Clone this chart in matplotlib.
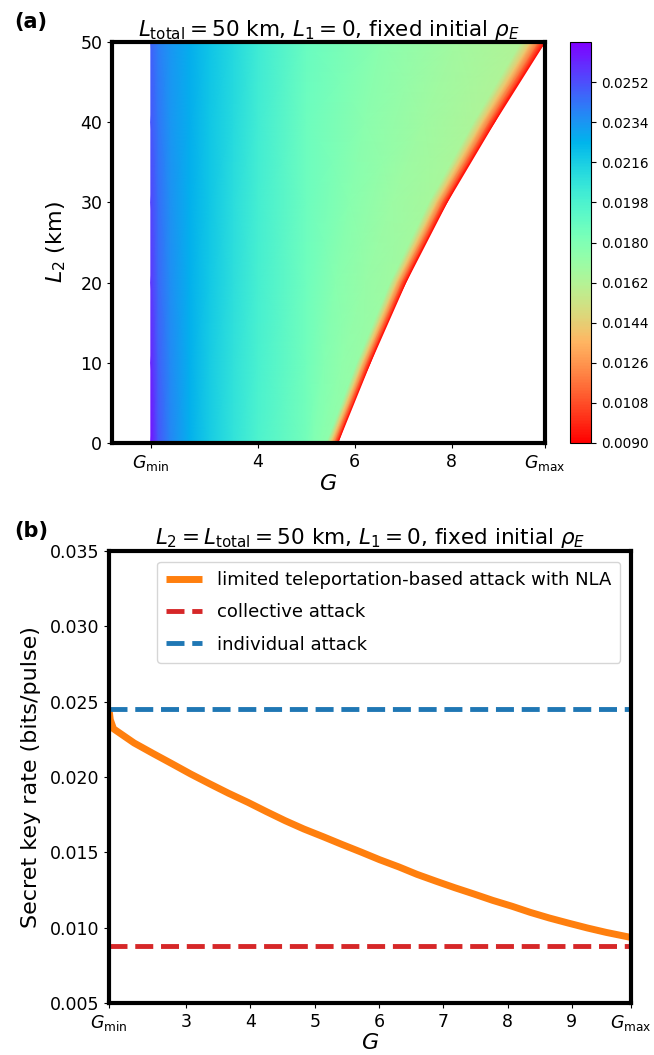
import numpy as np
import matplotlib
matplotlib.use("Agg")
import matplotlib.pyplot as plt

# ---------------- data ----------------
G_MIN = 1.80
G_MAX = 9.92

# panel (a): secret key rate map over (G, L2)
L2_rows = [0, 10, 20, 30, 40, 50]
G_edge = [5.65, 6.32, 7.05, 7.90, 8.88, 9.92]          # right boundary of the valid region
G_cols = [1.80, 1.95, 2.2, 2.6, 3.0, 3.5, 4.0, 5.0]      # fixed G sample columns
mid_frac = [0.35, 0.70]                                  # columns between G=5 and band
band_frac = [0.06, 0.035, 0.015, 0.0]                    # columns near the boundary (fraction of span)
rate_rows = [
    [0.0266, 0.0250, 0.0238, 0.0226, 0.0217, 0.0207, 0.0198, 0.0184, 0.0180, 0.0177, 0.0175, 0.0142, 0.0115, 0.0092],
    [0.0262, 0.0248, 0.0237, 0.0226, 0.0217, 0.0208, 0.0199, 0.0185, 0.0178, 0.0174, 0.0172, 0.0142, 0.0115, 0.0092],
    [0.0258, 0.0246, 0.0236, 0.0226, 0.0218, 0.0209, 0.0200, 0.0186, 0.0177, 0.0172, 0.0169, 0.0141, 0.0115, 0.0092],
    [0.0254, 0.0244, 0.0235, 0.0226, 0.0219, 0.0210, 0.0201, 0.0187, 0.0177, 0.0170, 0.0166, 0.0141, 0.0115, 0.0092],
    [0.0250, 0.0242, 0.0234, 0.0227, 0.0219, 0.0211, 0.0202, 0.0187, 0.0176, 0.0169, 0.0164, 0.0140, 0.0115, 0.0092],
    [0.0247, 0.0240, 0.0234, 0.0227, 0.0220, 0.0212, 0.0203, 0.0188, 0.0176, 0.0168, 0.0163, 0.0140, 0.0115, 0.0092],
]
cbar_ticks = [0.0090, 0.0108, 0.0126, 0.0144, 0.0162, 0.0180, 0.0198, 0.0216, 0.0234, 0.0252]
vmin, vmax = 0.0090, 0.0270

# panel (b): key rate vs G at L2 = 50 km
G_curve = [1.80, 1.82, 1.87, 2.19, 2.49, 2.78, 3.07, 3.37, 3.66, 3.96, 4.25, 4.54, 4.83, 5.13,
           5.42, 5.72, 6.01, 6.31, 6.59, 6.89, 7.18, 7.48, 7.77, 8.07, 8.35, 8.65, 8.94, 9.24,
           9.53, 9.92]
K_nla = [0.0245, 0.0238, 0.0232, 0.02226, 0.02155, 0.02088, 0.0202, 0.01954, 0.01892, 0.01832,
         0.0177, 0.0171, 0.01655, 0.01604, 0.01553, 0.01502, 0.01451, 0.01403, 0.01354, 0.01308,
         0.01265, 0.01223, 0.01181, 0.01142, 0.01102, 0.01064, 0.01031, 0.00998, 0.00969, 0.00935]
K_collective = 0.0088
K_individual = 0.0245

# ---------------- figure ----------------
W, H = 654, 1055
fig = plt.figure(figsize=(W / 100, H / 100), dpi=100)

def rect(x0, y0, x1, y1):
    return [x0 / W, 1 - y1 / H, (x1 - x0) / W, (y1 - y0) / H]

ax1 = fig.add_axes(rect(112, 42, 545, 443))
cax = fig.add_axes(rect(570, 42, 591, 443))
ax2 = fig.add_axes(rect(109, 551, 631, 1003))

# build the mesh for panel (a)
X, Y = [], []
for L2, ge in zip(L2_rows, G_edge):
    span = ge - G_MIN
    band = [ge - f * span for f in band_frac]
    mids = [G_cols[-1] + f * (band[0] - G_cols[-1]) for f in mid_frac]
    row = list(G_cols) + mids + band
    X.append(row)
    Y.append([L2] * len(row))
X = np.array(X)
Y = np.array(Y)
C = np.array(rate_rows)

mesh = ax1.pcolormesh(X, Y, C, shading="gouraud", cmap="rainbow_r",
                      vmin=vmin, vmax=vmax, rasterized=True)
ax1.set_xlim(1.0, G_MAX)
ax1.set_ylim(0, 50)
ax1.set_xticks([G_MIN, 4, 6, 8, G_MAX])
ax1.set_xticklabels([r"$G_{\rm min}$", "4", "6", "8", r"$G_{\rm max}$"])
ax1.set_yticks([0, 10, 20, 30, 40, 50])
ax1.set_xlabel(r"$G$", fontsize=16, labelpad=1)
ax1.set_ylabel(r"$L_2$ (km)", fontsize=16, labelpad=9)
ax1.set_title(r"$L_{\rm total} = 50$ km, $L_1 = 0$, fixed initial $\rho_E$", fontsize=15.5, pad=3)

cb = fig.colorbar(mesh, cax=cax, ticks=cbar_ticks, format="%.4f")
cb.ax.tick_params(labelsize=9.8)
cb.outline.set_linewidth(0.8)

# panel (b)
ax2.plot(G_curve, K_nla, color="#ff7f0e", lw=5, solid_capstyle="butt", solid_joinstyle="round",
         label="limited teleportation-based attack with NLA")
ax2.axhline(K_collective, color="#d62728", lw=3.5, ls="--", label="collective attack")
ax2.axhline(K_individual, color="#1f77b4", lw=3.5, ls="--", label="individual attack")
ax2.set_xlim(G_MIN, G_MAX)
ax2.set_ylim(0.005, 0.035)
ax2.set_yticks([0.005, 0.010, 0.015, 0.020, 0.025, 0.030, 0.035])
ax2.yaxis.set_major_formatter(matplotlib.ticker.FormatStrFormatter("%.3f"))
ax2.set_xticks([G_MIN, 3, 4, 5, 6, 7, 8, 9, G_MAX])
ax2.set_xticklabels([r"$G_{\rm min}$", "3", "4", "5", "6", "7", "8", "9", r"$G_{\rm max}$"])
ax2.set_xlabel(r"$G$", fontsize=16, labelpad=0)
ax2.set_ylabel("Secret key rate (bits/pulse)", fontsize=16, labelpad=6)
ax2.set_title(r"$L_2 = L_{\rm total} = 50$ km, $L_1 = 0$, fixed initial $\rho_E$", fontsize=15.5, pad=5)
ax2.legend(loc="upper right", fontsize=13, handlelength=2.0, borderaxespad=0.6,
           labelspacing=0.8, borderpad=0.5)

for ax in (ax1, ax2):
    for sp in ax.spines.values():
        sp.set_linewidth(3)
    ax.tick_params(labelsize=12.5)

fig.text(14 / W, 1 - 22 / H, "(a)", fontsize=15, fontweight="bold", va="center")
fig.text(14 / W, 1 - 531 / H, "(b)", fontsize=15, fontweight="bold", va="center")

fig.savefig("out.png", dpi=100)
